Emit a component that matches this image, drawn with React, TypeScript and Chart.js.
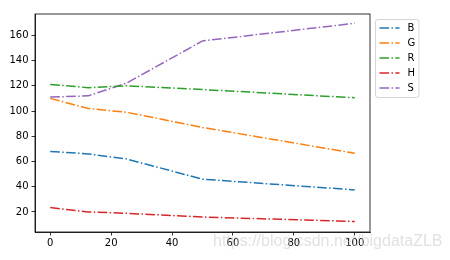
import React, { useEffect, useRef } from "react";
import { Chart, registerables } from "chart.js";

Chart.register(...registerables);

const xValues = [0, 12.5, 25, 50, 100];
const seriesNames = ["B", "G", "R", "H", "S"];
const seriesB = [68, 66, 62, 46, 37.5];
const seriesG = [110, 102, 99, 87, 66.5];
const seriesR = [121, 118.5, 120, 117, 110.5];
const seriesH = [23.5, 20, 19, 16, 12.5];
const seriesS = [111, 112, 122, 155.5, 169.5];
const xTicks = [0, 20, 40, 60, 80, 100];
const yTicks = [20, 40, 60, 80, 100, 120, 140, 160];
const colors = ["#1f77b4", "#ff7f0e", "#2ca02c", "#d62728", "#9467bd"];
const watermark = "https://blog.csdn.net/bigdataZLB";

const DASH = [9.6, 2.4, 1.5, 2.4];
const FONT = "DejaVu Sans";

const framePlugin = {
  id: "frameAndLegend",
  afterDraw(chart: any) {
    const { ctx, chartArea } = chart;
    ctx.save();
    ctx.strokeStyle = "#000";
    ctx.lineWidth = 0.8;
    ctx.strokeRect(chartArea.left, chartArea.top, chartArea.right - chartArea.left, chartArea.bottom - chartArea.top);

    // legend
    const lx = chartArea.right + 5.5;
    const ly = chartArea.top + 5.5;
    const w = 43.5;
    const h = 78;
    const r = 2.5;
    ctx.beginPath();
    ctx.moveTo(lx + r, ly);
    ctx.lineTo(lx + w - r, ly);
    ctx.arcTo(lx + w, ly, lx + w, ly + r, r);
    ctx.lineTo(lx + w, ly + h - r);
    ctx.arcTo(lx + w, ly + h, lx + w - r, ly + h, r);
    ctx.lineTo(lx + r, ly + h);
    ctx.arcTo(lx, ly + h, lx, ly + h - r, r);
    ctx.lineTo(lx, ly + r);
    ctx.arcTo(lx, ly, lx + r, ly, r);
    ctx.closePath();
    ctx.fillStyle = "rgba(255,255,255,0.8)";
    ctx.fill();
    ctx.strokeStyle = "rgba(204,204,204,0.8)";
    ctx.lineWidth = 1;
    ctx.stroke();

    chart.data.datasets.forEach((ds: any, i: number) => {
      const y = ly + 8.5 + i * 15;
      ctx.beginPath();
      ctx.setLineDash(DASH);
      ctx.strokeStyle = ds.borderColor;
      ctx.lineWidth = 1.5;
      ctx.moveTo(lx + 4, y);
      ctx.lineTo(lx + 24, y);
      ctx.stroke();
      ctx.setLineDash([]);
      ctx.fillStyle = "#000";
      ctx.font = `10px "${FONT}"`;
      ctx.textBaseline = "middle";
      ctx.textAlign = "left";
      ctx.fillText(ds.label, lx + 32, y + 0.5);
    });
    ctx.restore();
  },
};

export default function App() {
  const ref = useRef<HTMLCanvasElement>(null);
  useEffect(() => {
    document.body.style.margin = "0";
    const all = [seriesB, seriesG, seriesR, seriesH, seriesS];
    const chart = new Chart(ref.current!, {
      type: "line",
      data: {
        datasets: all.map((vals, i) => ({
          label: seriesNames[i],
          data: xValues.map((x, j) => ({ x, y: vals[j] })),
          borderColor: colors[i],
          backgroundColor: colors[i],
          borderWidth: 1.5,
          borderDash: DASH,
          pointRadius: 0,
          tension: 0,
          fill: false,
        })),
      },
      options: {
        animation: false,
        responsive: false,
        layout: { padding: { left: 0, top: 14, right: 80, bottom: 0 } },
        plugins: { legend: { display: false }, tooltip: { enabled: false } },
        scales: {
          x: {
            type: "linear",
            min: -5,
            max: 105,
            afterBuildTicks: (s: any) => {
              s.ticks = xTicks.map((v) => ({ value: v }));
            },
            afterFit: (s: any) => {
              s.height = 28;
            },
            ticks: { color: "#000", font: { family: FONT, size: 10 }, padding: 2, maxRotation: 0, callback: (v: any) => String(v) },
            grid: { drawOnChartArea: false, drawTicks: true, tickLength: 3.5, color: "#000", lineWidth: 0.8 },
            border: { display: true, color: "#000", width: 0.8 },
          },
          y: {
            type: "linear",
            min: 4.15,
            max: 176.85,
            afterBuildTicks: (s: any) => {
              s.ticks = yTicks.map((v) => ({ value: v }));
            },
            afterFit: (s: any) => {
              s.width = 35;
            },
            ticks: { color: "#000", font: { family: FONT, size: 10 }, padding: 3, callback: (v: any) => String(v) },
            grid: { drawOnChartArea: false, drawTicks: true, tickLength: 3.5, color: "#000", lineWidth: 0.8 },
            border: { display: true, color: "#000", width: 0.8 },
          },
        },
      },
      plugins: [framePlugin],
    });
    return () => chart.destroy();
  }, []);
  return (
    <div style={{ position: "relative", width: 450, height: 260, background: "#fff" }}>
      <canvas ref={ref} width={450} height={260} style={{ display: "block" }} />
      <div
        style={{
          position: "absolute",
          left: 213,
          top: 232,
          fontFamily: "Liberation Sans",
          fontSize: 16,
          color: "rgba(200,200,200,0.55)",
          whiteSpace: "nowrap",
          pointerEvents: "none",
        }}
      >
        {watermark}
      </div>
    </div>
  );
}
